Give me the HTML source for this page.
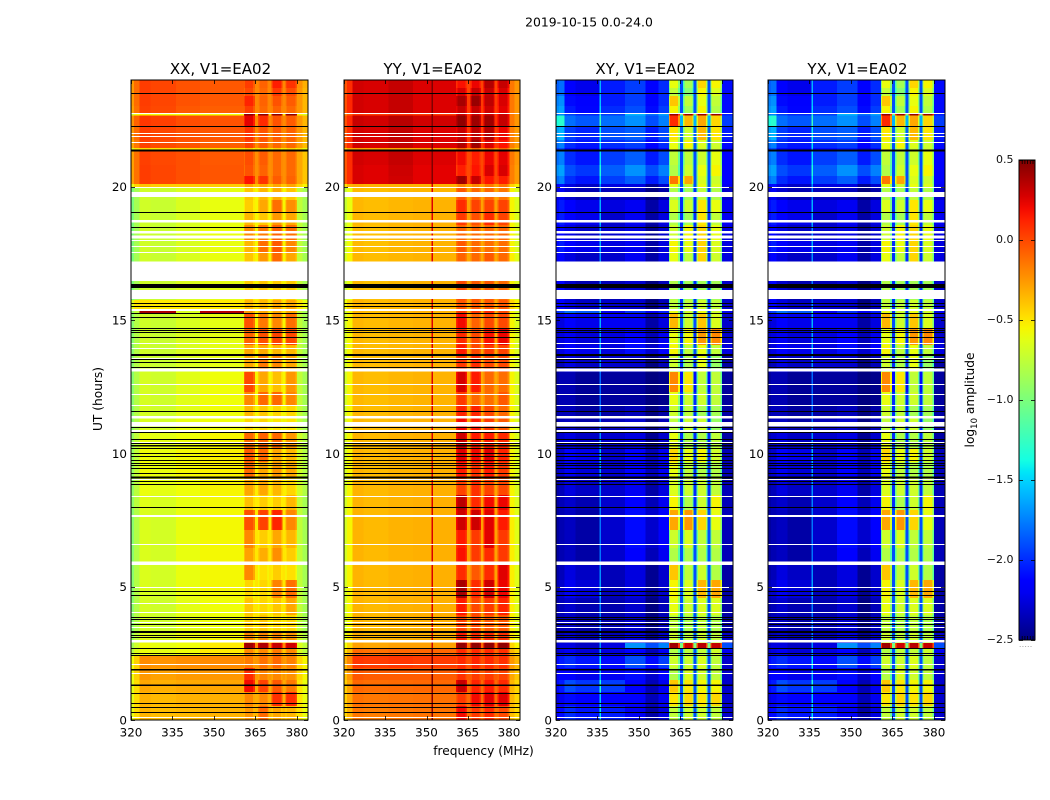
<!DOCTYPE html>
<html lang="en">
<head>
<meta charset="utf-8">
<title>2019-10-15 0.0-24.0</title>
<style>
html,body{margin:0;padding:0;background:#fff;}
#figure{display:block;width:1050px;height:800px;font-family:"DejaVu Sans","Liberation Sans",sans-serif;fill:#000;}
</style>
</head>
<body>
<svg id="figure" xmlns="http://www.w3.org/2000/svg" width="1050" height="800" viewBox="0 0 1050 800">
<text x="589" y="26.5" font-size="12.4" text-anchor="middle">2019-10-15 0.0-24.0</text>
<text x="483.5" y="755" font-size="12.2" text-anchor="middle">frequency (MHz)</text>
<text transform="translate(102,399) rotate(-90)" font-size="12.2" text-anchor="middle">UT (hours)</text>
<text transform="translate(974,400) rotate(-90)" font-size="12.2" text-anchor="middle">log<tspan font-size="8.5" dy="3">10</tspan><tspan dy="-3"> amplitude</tspan></text>
</svg>
<script>
// ---- chart data -----------------------------------------------------------
const panelTitles = ['XX, V1=EA02', 'YY, V1=EA02', 'XY, V1=EA02', 'YX, V1=EA02'];
const xTicksMHz = [320, 335, 350, 365, 380];
const yTicksUT = [0, 5, 10, 15, 20];
const colorbarTicks = [-2.5, -2, -1.5, -1, -0.5, 0, 0.5];
const colorbarLabels = ['\u22122.5', '\u22122.0', '\u22121.5', '\u22121.0', '\u22120.5', '0.0', '0.5'];

// frequency channel boundaries (MHz)
const channelEdges = [320,321,323,327,335.7,336.2,345,351.8,352.3,357,360.8,361.3,364.2,364.8,366,366.5,369.3,369.8,370.8,371.3,374.3,374.8,375.8,376.3,379.5,380.1,382,384];
// which spectral group each channel belongs to:
// 0 edge, 1 left, 2 mid, 3 right, 4-7 sub-bands, 8 notch, 9 tail
const channelGroup = [0,0,1,1,1,2,3,3,3,3,4,4,4,8,5,5,5,8,6,6,6,8,7,7,7,9,9];
// per-channel amplitude trim for each polarisation
const trimXX = [-.1,.05,.03,0,0,0,0,0,0,0,-.1,0,-.1,0,-.1,0,-.1,0,-.1,0,-.1,0,-.1,0,-.1,.05,-.05];
const trimYY = [-.08,.05,.02,0,0,0,0,.6,0,0,-.1,0,-.1,0,-.1,0,-.1,0,-.1,0,-.1,0,-.1,0,-.1,.05,-.05];
const trimXY = [0,.05,.05,-.02,.6,0,0,0,-.2,-.05,-.35,0,-.35,0,-.35,0,-.35,0,-.35,0,-.35,0,-.35,0,-.35,0,0];

// time row boundaries, top to bottom (UT hours)
const rowEdgesUT = [24,23.7,23.4,23.02,22.76,22.67,22.27,21.75,21.45,21.38,20.81,20.4,20.1,19.99,19.5,19.05,18.56,18,17.55,17.21,16.46,15.75,15.38,15.25,14.7,14.06,13.65,13.05,12.3,11.81,11.33,10.8,10.2,9.68,9.08,8.44,7.88,7.13,6.45,5.81,5.25,4.58,3.94,3.3,2.89,2.7,2.44,1.95,1.5,1.05,.53,0];

// log10 amplitude per row: [edge,left,mid,right,b1,b2,b3,b4,notch,tail]
const rowsXX = [
[-.16,.01,-.03,-.05,.04,-.08,.14,.07,-.2,-.28],
[-.16,.01,-.03,-.05,0,-.1,.05,-.01,-.2,-.3],
[-.16,.01,-.03,-.05,.12,-.08,-.03,-.06,-.2,-.3],
[-.18,0,-.05,-.07,.04,-.1,-.08,-.1,-.2,-.3],
[-.62,-.58,-.58,-.58,.46,.46,.46,.46,-.5,-.6],
[-.13,.03,-.01,-.03,.24,.1,-.03,-.06,-.2,-.3],
[-.16,.01,-.02,-.04,.07,-.03,-.06,-.08,-.2,-.3],
[-.2,-.01,-.04,-.07,.02,-.06,-.1,-.1,-.22,-.32],
[-.55,-.5,-.5,-.5,-.45,-.45,-.45,-.45,-.5,-.55],
[-.18,0,-.02,-.05,-.01,-.06,-.1,-.1,-.22,-.35],
[-.18,.01,-.02,-.04,-.03,-.08,-.1,-.1,-.22,-.35],
[-.18,.01,-.02,-.04,.17,.07,-.06,-.08,-.22,-.35],
[-.5,-.42,-.42,-.42,-.3,-.3,-.3,-.3,-.4,-.5],
[-.9,-.72,-.66,-.62,-.4,-.35,-.32,-.4,-.55,-.8],
[-.9,-.72,-.66,-.6,-.42,-.3,-.12,-.22,-.55,-.8],
[-.9,-.72,-.66,-.6,-.35,-.4,-.25,-.3,-.55,-.8],
[-.9,-.72,-.66,-.6,-.2,-.15,-.08,-.12,-.55,-.8],
[-.9,-.72,-.66,-.6,-.35,-.12,-.05,-.2,-.55,-.8],
[-.9,-.72,-.66,-.6,-.4,-.25,-.1,-.3,-.55,-.8],
[-.9,-.72,-.66,-.6,-.4,-.25,-.1,-.3,-.55,-.8],
[-.9,-.72,-.66,-.62,-.42,-.4,-.42,-.42,-.55,-.8],
[-.55,-.52,-.52,-.52,-.35,-.35,-.3,-.3,-.48,-.55],
[-.8,.38,-.66,.36,-.25,-.3,-.3,-.3,-.5,-.8],
[-.85,-.72,-.66,-.62,-.02,-.15,-.2,-.12,-.55,-.8],
[-.85,-.72,-.66,-.62,-.08,-.02,.02,0,-.55,-.8],
[-.85,-.72,-.66,-.62,-.3,-.3,-.35,-.35,-.55,-.8],
[-.85,-.72,-.66,-.62,-.3,-.15,-.2,-.3,-.55,-.8],
[-.85,-.7,-.63,-.58,0,-.3,-.38,-.25,-.55,-.8],
[-.85,-.7,-.63,-.58,-.2,-.1,-.1,-.2,-.55,-.8],
[-.85,-.7,-.63,-.58,-.35,-.4,-.45,-.45,-.55,-.8],
[-.85,-.68,-.6,-.58,-.45,-.45,-.5,-.5,-.55,-.8],
[-.8,-.62,-.58,-.55,-.1,-.08,-.1,-.25,-.52,-.75],
[-.8,-.6,-.56,-.54,-.05,-.1,-.3,-.35,-.52,-.75],
[-.8,-.6,-.56,-.54,-.1,-.3,-.25,-.3,-.52,-.75],
[-.82,-.62,-.58,-.55,-.3,-.3,-.35,-.45,-.52,-.75],
[-.82,-.66,-.6,-.56,-.38,-.42,-.42,-.35,-.52,-.8],
[-.85,-.68,-.6,-.56,-.02,.02,.12,-.2,-.5,-.8],
[-.85,-.68,-.6,-.56,-.2,-.42,-.3,-.35,-.5,-.8],
[-.85,-.68,-.6,-.56,-.28,-.32,-.22,-.42,-.5,-.8],
[-.85,-.68,-.6,-.56,-.2,-.48,-.42,-.48,-.5,-.8],
[-.85,-.68,-.6,-.56,-.45,-.45,-.18,-.12,-.5,-.8],
[-.85,-.7,-.62,-.58,-.4,-.45,-.4,-.3,-.5,-.8],
[-.85,-.7,-.62,-.58,-.42,-.4,-.45,-.45,-.5,-.8],
[-.8,-.66,-.6,-.56,-.2,-.2,-.2,-.25,-.45,-.75],
[-.75,-.6,-.58,-.52,.42,.38,.32,.3,-.2,-.7],
[-.7,-.62,-.58,-.52,-.2,-.2,-.15,-.2,-.4,-.72],
[-.48,-.24,-.22,-.21,-.16,-.13,-.1,-.18,-.25,-.5],
[-.48,-.28,-.26,-.25,.1,-.18,-.2,-.23,-.25,-.5],
[-.52,-.33,-.31,-.3,.2,.02,-.05,-.15,-.3,-.55],
[-.52,-.36,-.34,-.33,-.2,-.2,.08,.08,-.32,-.55],
[-.52,-.37,-.36,-.34,-.25,-.1,-.3,-.35,-.35,-.55]
];
const rowsYY = [
[.04,.27,.32,.26,.18,.22,.37,.32,.02,-.2],
[.04,.27,.32,.26,.27,.32,.32,.27,.02,-.2],
[.06,.27,.32,.26,.4,.44,.34,.27,.05,-.2],
[.06,.27,.32,.26,.32,.32,.3,.24,.05,-.2],
[-.1,.05,.08,.05,.3,.3,.3,.3,.05,-.2],
[.06,.29,.35,.29,.46,.42,.42,.32,.08,-.2],
[.04,.27,.33,.26,.32,.34,.37,.22,.05,-.22],
[.04,.27,.32,.26,.37,.42,.27,.17,.05,-.22],
[-.35,-.3,-.3,-.3,-.1,-.1,-.1,-.1,-.25,-.4],
[.04,.27,.32,.26,.2,.14,.22,.24,0,-.2],
[.04,.25,.3,.24,.14,.17,.27,.27,0,-.22],
[.04,.25,.29,.24,.42,.32,.17,.14,0,-.22],
[-.4,-.34,-.34,-.34,-.2,-.2,-.15,-.15,-.3,-.5],
[-.65,-.38,-.36,-.35,-.05,-.1,-.1,-.15,-.3,-.6],
[-.65,-.37,-.35,-.34,.1,.02,.02,.02,-.28,-.6],
[-.65,-.37,-.35,-.34,.05,-.02,.1,.02,-.28,-.6],
[-.65,-.38,-.35,-.34,-.1,-.1,-.1,-.1,-.3,-.6],
[-.62,-.38,-.35,-.34,-.05,-.1,-.12,-.12,-.3,-.6],
[-.6,-.37,-.35,-.34,-.08,-.1,-.05,-.1,-.3,-.58],
[-.6,-.37,-.35,-.34,-.08,-.1,-.05,-.1,-.3,-.58],
[-.65,-.38,-.35,-.34,0,-.05,-.05,-.1,-.3,-.6],
[-.5,-.36,-.35,-.34,-.05,-.05,-.05,-.05,-.3,-.5],
[-.6,-.37,-.35,-.34,.05,.05,.1,0,-.3,-.6],
[-.6,-.37,-.35,-.34,.2,-.08,0,0,-.3,-.6],
[-.6,-.37,-.35,-.34,.1,0,.18,.22,-.3,-.6],
[-.6,-.37,-.35,-.34,.15,0,.05,.02,-.3,-.6],
[-.6,-.37,-.35,-.34,.05,.1,0,0,-.3,-.6],
[-.6,-.37,-.35,-.34,.28,.15,-.1,-.12,-.3,-.6],
[-.6,-.37,-.35,-.34,.05,-.1,-.12,-.05,-.3,-.6],
[-.6,-.37,-.35,-.34,.12,.12,0,-.1,-.3,-.6],
[-.6,-.37,-.35,-.34,.2,.15,.05,-.05,-.3,-.6],
[-.6,-.36,-.34,-.33,.3,.15,.15,.1,-.28,-.6],
[-.6,-.36,-.34,-.33,.25,.2,.25,.12,-.28,-.6],
[-.6,-.36,-.34,-.33,.15,.08,.15,.05,-.28,-.6],
[-.6,-.36,-.34,-.33,.02,.08,.02,0,-.28,-.6],
[-.6,-.36,-.34,-.33,.35,.1,.2,.22,-.28,-.6],
[-.6,-.36,-.34,-.33,.3,.3,.25,.15,-.28,-.58],
[-.6,-.36,-.34,-.33,.15,.05,.25,.05,-.28,-.58],
[-.6,-.36,-.34,-.33,.18,.05,.1,.05,-.28,-.58],
[-.6,-.36,-.34,-.33,.1,-.05,.1,.25,-.28,-.58],
[-.6,-.36,-.34,-.33,.4,.1,.3,.22,-.28,-.58],
[-.6,-.36,-.34,-.33,.15,0,.05,.12,-.28,-.58],
[-.6,-.36,-.34,-.33,.02,0,-.05,-.05,-.28,-.58],
[-.55,-.34,-.33,-.32,.15,.1,.1,.08,-.28,-.55],
[-.5,-.3,-.28,-.28,.46,.46,.46,.46,-.1,-.5],
[-.4,-.13,-.1,-.1,.1,.1,.1,.08,-.1,-.4],
[-.25,.04,.06,.04,.1,.12,.1,.08,-.02,-.3],
[-.3,-.06,-.06,-.06,.08,.05,.05,.02,-.05,-.35],
[-.35,-.12,-.11,-.1,.32,.12,.15,.1,-.1,-.4],
[-.35,-.15,-.14,-.13,.05,.2,.25,.25,-.1,-.4],
[-.38,-.17,-.15,-.14,.2,.05,.1,0,-.12,-.42]
];
const rowsXY = [
[-1.85,-2.2,-2.05,-1.95,-.6,-.85,-.45,-.55,-1.9,-2.1],
[-1.85,-2.2,-2.05,-1.95,-.75,-.95,-.55,-.65,-1.9,-2.1],
[-1.75,-2.15,-2.05,-1.95,-.4,-.75,-.6,-.75,-1.9,-2.1],
[-1.7,-2.1,-2,-1.9,-.55,-.85,-.55,-.8,-1.9,-2.1],
[-1.8,-2,-1.95,-1.6,.45,.45,.45,.45,-1,-2.05],
[-1.35,-1.85,-1.8,-1.7,.1,-.35,-.3,-.45,-1.6,-1.95],
[-1.65,-2,-1.9,-1.85,-.5,-.7,-.35,-.5,-1.85,-2.05],
[-1.8,-2.05,-2,-1.95,-.6,-.55,-.65,-.7,-1.9,-2.1],
[-1.95,-2.15,-2.1,-2.05,-.6,-.7,-.7,-.7,-1.9,-2.15],
[-1.8,-2.05,-1.95,-1.85,-.75,-.75,-.7,-.6,-1.9,-2.15],
[-1.7,-1.95,-1.85,-1.7,-.8,-.7,-.6,-.55,-1.9,-2.15],
[-1.8,-2.05,-1.95,-1.85,-.15,-.3,-.65,-.7,-1.9,-2.15],
[-2.15,-2.3,-2.25,-2.25,-.6,-.7,-.6,-.65,-1.9,-2.2],
[-2.25,-2.35,-2.35,-2.35,-.8,-.85,-.75,-.8,-2,-2.3],
[-2.1,-2.2,-2.25,-2.2,-.65,-.7,-.5,-.6,-2,-2.2],
[-2.1,-2.2,-2.3,-2.2,-.8,-.85,-.5,-.75,-2,-2.2],
[-2.2,-2.3,-2.3,-2.25,-.7,-.55,-.45,-.6,-2,-2.25],
[-2.1,-2.2,-2.25,-2.2,-.55,-.6,-.45,-.65,-2,-2.25],
[-2.2,-2.3,-2.3,-2.2,-.6,-.75,-.45,-.7,-2,-2.25],
[-2.2,-2.3,-2.3,-2.2,-.6,-.75,-.45,-.7,-2,-2.25],
[-2.2,-2.35,-2.35,-2.3,-.8,-.85,-.85,-.85,-2,-2.3],
[-2.2,-2.3,-2.3,-2.3,-.75,-.75,-.7,-.75,-2,-2.3],
[-2,-1.85,-2.2,-2,-.6,-.7,-.6,-.7,-2,-2.2],
[-2.3,-2.2,-2.2,-2.2,-.35,-.7,-.4,-.65,-1.9,-2.3],
[-2.3,-2.25,-2.25,-2.15,-.6,-.55,-.25,-.2,-2,-2.3],
[-2.3,-2.2,-2.25,-2.1,-.55,-.75,-.6,-.75,-1.9,-2.25],
[-2.4,-2.3,-2.3,-2.3,-.7,-.8,-.6,-.9,-2,-2.4],
[-2.42,-2.42,-2.42,-2.42,-.2,-.5,-.75,-.75,-2.1,-2.42],
[-2.42,-2.42,-2.42,-2.42,-.6,-.7,-.7,-.75,-2,-2.42],
[-2.4,-2.4,-2.4,-2.35,-.7,-.75,-.85,-.85,-2,-2.4],
[-2.4,-2.38,-2.35,-2.3,-.75,-.7,-.7,-.9,-2,-2.4],
[-2.35,-2.3,-2.3,-2.25,-.6,-.8,-.8,-.75,-2,-2.4],
[-2.35,-2.2,-2.3,-2.15,-.45,-.6,-.55,-.7,-2,-2.35],
[-2.35,-2.25,-2.3,-2.15,-.6,-.75,-.8,-.8,-2,-2.35],
[-2.4,-2.3,-2.3,-2.2,-.65,-.7,-.7,-.75,-2,-2.35],
[-2.4,-2.35,-2.3,-2.15,-.55,-.8,-.7,-.55,-2,-2.35],
[-2.42,-2.38,-2.3,-2.1,-.3,-.25,-.45,-.6,-1.9,-2.35],
[-2.42,-2.38,-2.3,-2.1,-.7,-.65,-.75,-.75,-1.9,-2.35],
[-2.42,-2.38,-2.3,-2.15,-.8,-.8,-.8,-.8,-1.9,-2.35],
[-2.4,-2.3,-2.35,-2.25,-.4,-.75,-.7,-.8,-1.9,-2.4],
[-2.35,-2.25,-2.35,-2.25,-.55,-.65,-.35,-.3,-1.9,-2.4],
[-2.4,-2.35,-2.38,-2.3,-.6,-.7,-.65,-.65,-1.9,-2.4],
[-2.4,-2.38,-2.38,-2.3,-.75,-.8,-.75,-.8,-1.9,-2.4],
[-2.4,-2.35,-2.35,-2.25,-.7,-.75,-.7,-.75,-1.9,-2.3],
[-2.3,-2.3,-2.25,-1.7,.42,.3,.36,.32,-1,-1.9],
[-2.3,-2.25,-2.25,-2.15,-.8,-.75,-.75,-.7,-1.9,-2.2],
[-2.1,-2.05,-2.1,-1.9,-.7,-.7,-.65,-.75,-1.9,-2.3],
[-2.2,-2.2,-2.2,-2.1,-.8,-.65,-.7,-.75,-1.9,-2.3],
[-2.1,-1.95,-1.95,-2.15,-.4,-.5,-.55,-.55,-1.9,-2.3],
[-2.25,-2.15,-2.15,-2.15,-.5,-.45,-.5,-.45,-1.9,-2.3],
[-2.15,-2.05,-2.05,-2.2,-.75,-.7,-.7,-.75,-1.9,-2.3]
];

// flagged integrations, shared by all polarisations (UT hours)
const whiteLinesUT = [22.76,22.02,21.9,21.66,20,18.01,17.79,17.54,15.4,14.15,13.96,13.56,12.59,12.21,11.8,11.19,10.41,9.12,9.04,8.4,6.59,5,4.38,4.04,3.67,3.5,2.1,1.75,.1];
const whiteBandsUT = [[19.62,19.8],[18.65,18.75],[18.25,18.33],[18.06,18.16],[16.47,17.19],[15.79,16.13],[15.33,15.38],[13.06,13.18],[11.31,11.4],[11,11.13],[10.76,10.87],[7.62,7.69],[5.81,5.94],[2.9,3]];
const blackLinesUT = [23.5,22.28,19.04,18.48,15.65,15.53,15.25,15.1,14.69,14.63,14.55,14.35,13.54,13.41,13.25,11.6,10.98,10.8,10.53,10.4,10.2,10.02,9.9,9.75,9.65,9.56,9.46,9.27,8.96,8.85,7.98,4.85,4.7,3.87,3.78,3.59,3.2,3.1,2.69,2.52,2.44,1.02,.63,.48,.29];
const blackBandsUT = [[21.32,21.39],[16.2,16.35],[13.65,13.72],[10.25,10.31],[9.06,9.13],[3.27,3.33],[1.85,1.91],[1.27,1.33]];

// ---- axis functions --------------------------------------------------------
const svg = document.getElementById('figure');
const NS = 'http://www.w3.org/2000/svg';
const panelLefts = [131, 344, 556, 768];
const panelWidths = [177, 176, 177, 177];
const plotTop = 80, plotBottom = 720;
const cbLeft = 1019, cbRight = 1035, cbTop = 160, cbBottom = 640;
const freqMin = 320, freqMax = 384, utMax = 24, cbMin = -2.5, cbMax = 0.5;

function yScale(ut) { return plotBottom - (ut / utMax) * (plotBottom - plotTop); }
function xScale(panel, mhz) { return panelLefts[panel] + (mhz - freqMin) / (freqMax - freqMin) * panelWidths[panel]; }
function cbScale(v) { return cbBottom - (v - cbMin) / (cbMax - cbMin) * (cbBottom - cbTop); }

function interp(points, t) {
  for (let i = 1; i < points.length; i++) {
    if (t <= points[i][0]) {
      const a = points[i - 1], b = points[i];
      return a[1] + (b[1] - a[1]) * (t - a[0]) / (b[0] - a[0]);
    }
  }
  return points[points.length - 1][1];
}
const jetR = [[0,0],[.35,0],[.66,1],[.89,1],[1,.5]];
const jetG = [[0,0],[.125,0],[.375,1],[.64,1],[.91,0],[1,0]];
const jetB = [[0,.5],[.11,1],[.34,1],[.65,0],[1,0]];
function jet(v) {
  const t = Math.min(1, Math.max(0, (v - cbMin) / (cbMax - cbMin)));
  const c = [jetR, jetG, jetB].map(p => Math.round(255 * interp(p, t)));
  return 'rgb(' + c.join(',') + ')';
}
function make(tag, attrs, parent) {
  const el = document.createElementNS(NS, tag);
  for (const k in attrs) el.setAttribute(k, attrs[k]);
  parent.appendChild(el);
  return el;
}

// ---- panels ---------------------------------------------------------------
const panelRows = [rowsXX, rowsYY, rowsXY, rowsXY];
const panelTrims = [trimXX, trimYY, trimXY, trimXY];

function drawPanel(p) {
  const g = make('g', {}, svg);
  
  
  const L = panelLefts[p], W = panelWidths[p];

  const cells = make('g', { 'shape-rendering': 'crispEdges' }, g);
  
  
  panelRows[p].forEach((row, r) => {
    const y0 = yScale(rowEdgesUT[r]), y1 = yScale(rowEdgesUT[r + 1]);
    channelGroup.forEach((group, c) => {
      const x0 = xScale(p, channelEdges[c]), x1 = xScale(p, channelEdges[c + 1]);
      const cell = make('rect', { x: x0, y: y0, width: x1 - x0, height: y1 - y0, fill: jet(row[group] + panelTrims[p][c]) }, cells);
      
      
    });
  });

  const flags = make('g', { 'shape-rendering': 'crispEdges' }, g);
  
  
  whiteBandsUT.forEach(b => {
    const el = make('rect', { x: L, y: yScale(b[1]), width: W, height: yScale(b[0]) - yScale(b[1]), fill: '#fff' }, flags);
    
    
  });
  whiteLinesUT.forEach(u => {
    const el = make('rect', { x: L, y: Math.round(yScale(u)), width: W, height: 1, fill: '#fff' }, flags);
    
    
  });
  blackBandsUT.forEach(b => {
    const el = make('rect', { x: L, y: yScale(b[1]), width: W, height: yScale(b[0]) - yScale(b[1]), fill: '#000' }, flags);
    
    
  });
  blackLinesUT.forEach(u => {
    const el = make('rect', { x: L, y: Math.round(yScale(u)), width: W, height: 1, fill: '#000' }, flags);
    
    
  });

  xTicksMHz.forEach(t => {
    const x = Math.round(xScale(p, t)) + 0.5;
    const top = make('line', { x1: x, x2: x, y1: plotTop, y2: plotTop + 4, stroke: '#000', 'stroke-width': 0.8 }, g);
    
    
    const bottom = make('line', { x1: x, x2: x, y1: plotBottom, y2: plotBottom - 4, stroke: '#000', 'stroke-width': 0.8 }, g);
    
    
    const label = make('text', { x: xScale(p, t), y: plotBottom + 16.5, 'font-size': 11.9, 'text-anchor': 'middle' }, g);
    
    
    label.textContent = String(t);
  });
  yTicksUT.forEach(t => {
    const y = Math.round(yScale(t)) + 0.5;
    const left = make('line', { x1: L, x2: L + 4, y1: y, y2: y, stroke: '#000', 'stroke-width': 0.8 }, g);
    
    
    const right = make('line', { x1: L + W, x2: L + W - 4, y1: y, y2: y, stroke: '#000', 'stroke-width': 0.8 }, g);
    
    
    const label = make('text', { x: L - 4, y: yScale(t) + 4.5, 'font-size': 11.9, 'text-anchor': 'end' }, g);
    
    
    label.textContent = String(t);
  });

  const frame = make('rect', { x: L, y: plotTop, width: W, height: plotBottom - plotTop, fill: 'none', stroke: '#000', 'stroke-width': 1 }, g);
  
  

  const title = make('text', { x: L + W / 2 + 1, y: 74, 'font-size': 15, 'text-anchor': 'middle' }, g);
  
  
  title.textContent = panelTitles[p];
}
panelTitles.forEach((_, p) => drawPanel(p));

// ---- colorbar --------------------------------------------------------------
const cb = make('g', {}, svg);


const defs = make('defs', {}, cb);
const grad = make('linearGradient', { id: 'jetGradient', x1: 0, y1: 1, x2: 0, y2: 0 }, defs);
for (let i = 0; i <= 40; i++) {
  make('stop', { offset: i / 40, 'stop-color': jet(cbMin + (cbMax - cbMin) * i / 40) }, grad);
}
const cbRect = make('rect', { x: cbLeft, y: cbTop, width: cbRight - cbLeft, height: cbBottom - cbTop, fill: 'url(#jetGradient)', stroke: '#000', 'stroke-width': 1 }, cb);


colorbarTicks.forEach((t, i) => {
  const y = Math.round(cbScale(t)) + 0.5;
  const a = make('line', { x1: cbLeft, x2: cbLeft + 4, y1: y, y2: y, stroke: '#000', 'stroke-width': 0.8 }, cb);
  
  
  const b = make('line', { x1: cbRight, x2: cbRight - 4, y1: y, y2: y, stroke: '#000', 'stroke-width': 0.8 }, cb);
  
  
  const label = make('text', { x: 1013.5, y: cbScale(t) + 3, 'font-size': 11, 'text-anchor': 'end', fill: '#111' }, cb);
  
  
  label.textContent = colorbarLabels[i];
});
for (let k = 1; k <= 5; k++) {
  const x = cbLeft + k * 2.7 + 0.5;
  const up = make('line', { x1: x, x2: x, y1: cbTop, y2: cbTop + 4, stroke: '#000', 'stroke-width': 0.8 }, cb);
  
  
  const down = make('line', { x1: x, x2: x, y1: cbBottom, y2: cbBottom - 4, stroke: '#000', 'stroke-width': 0.8 }, cb);
  
  
  const dot = make('rect', { x: cbLeft + k * 2.7 - 2, y: cbBottom + 6, width: 1, height: 1, fill: '#aaa' }, cb);
  
  
}
</script>
</body>
</html>
